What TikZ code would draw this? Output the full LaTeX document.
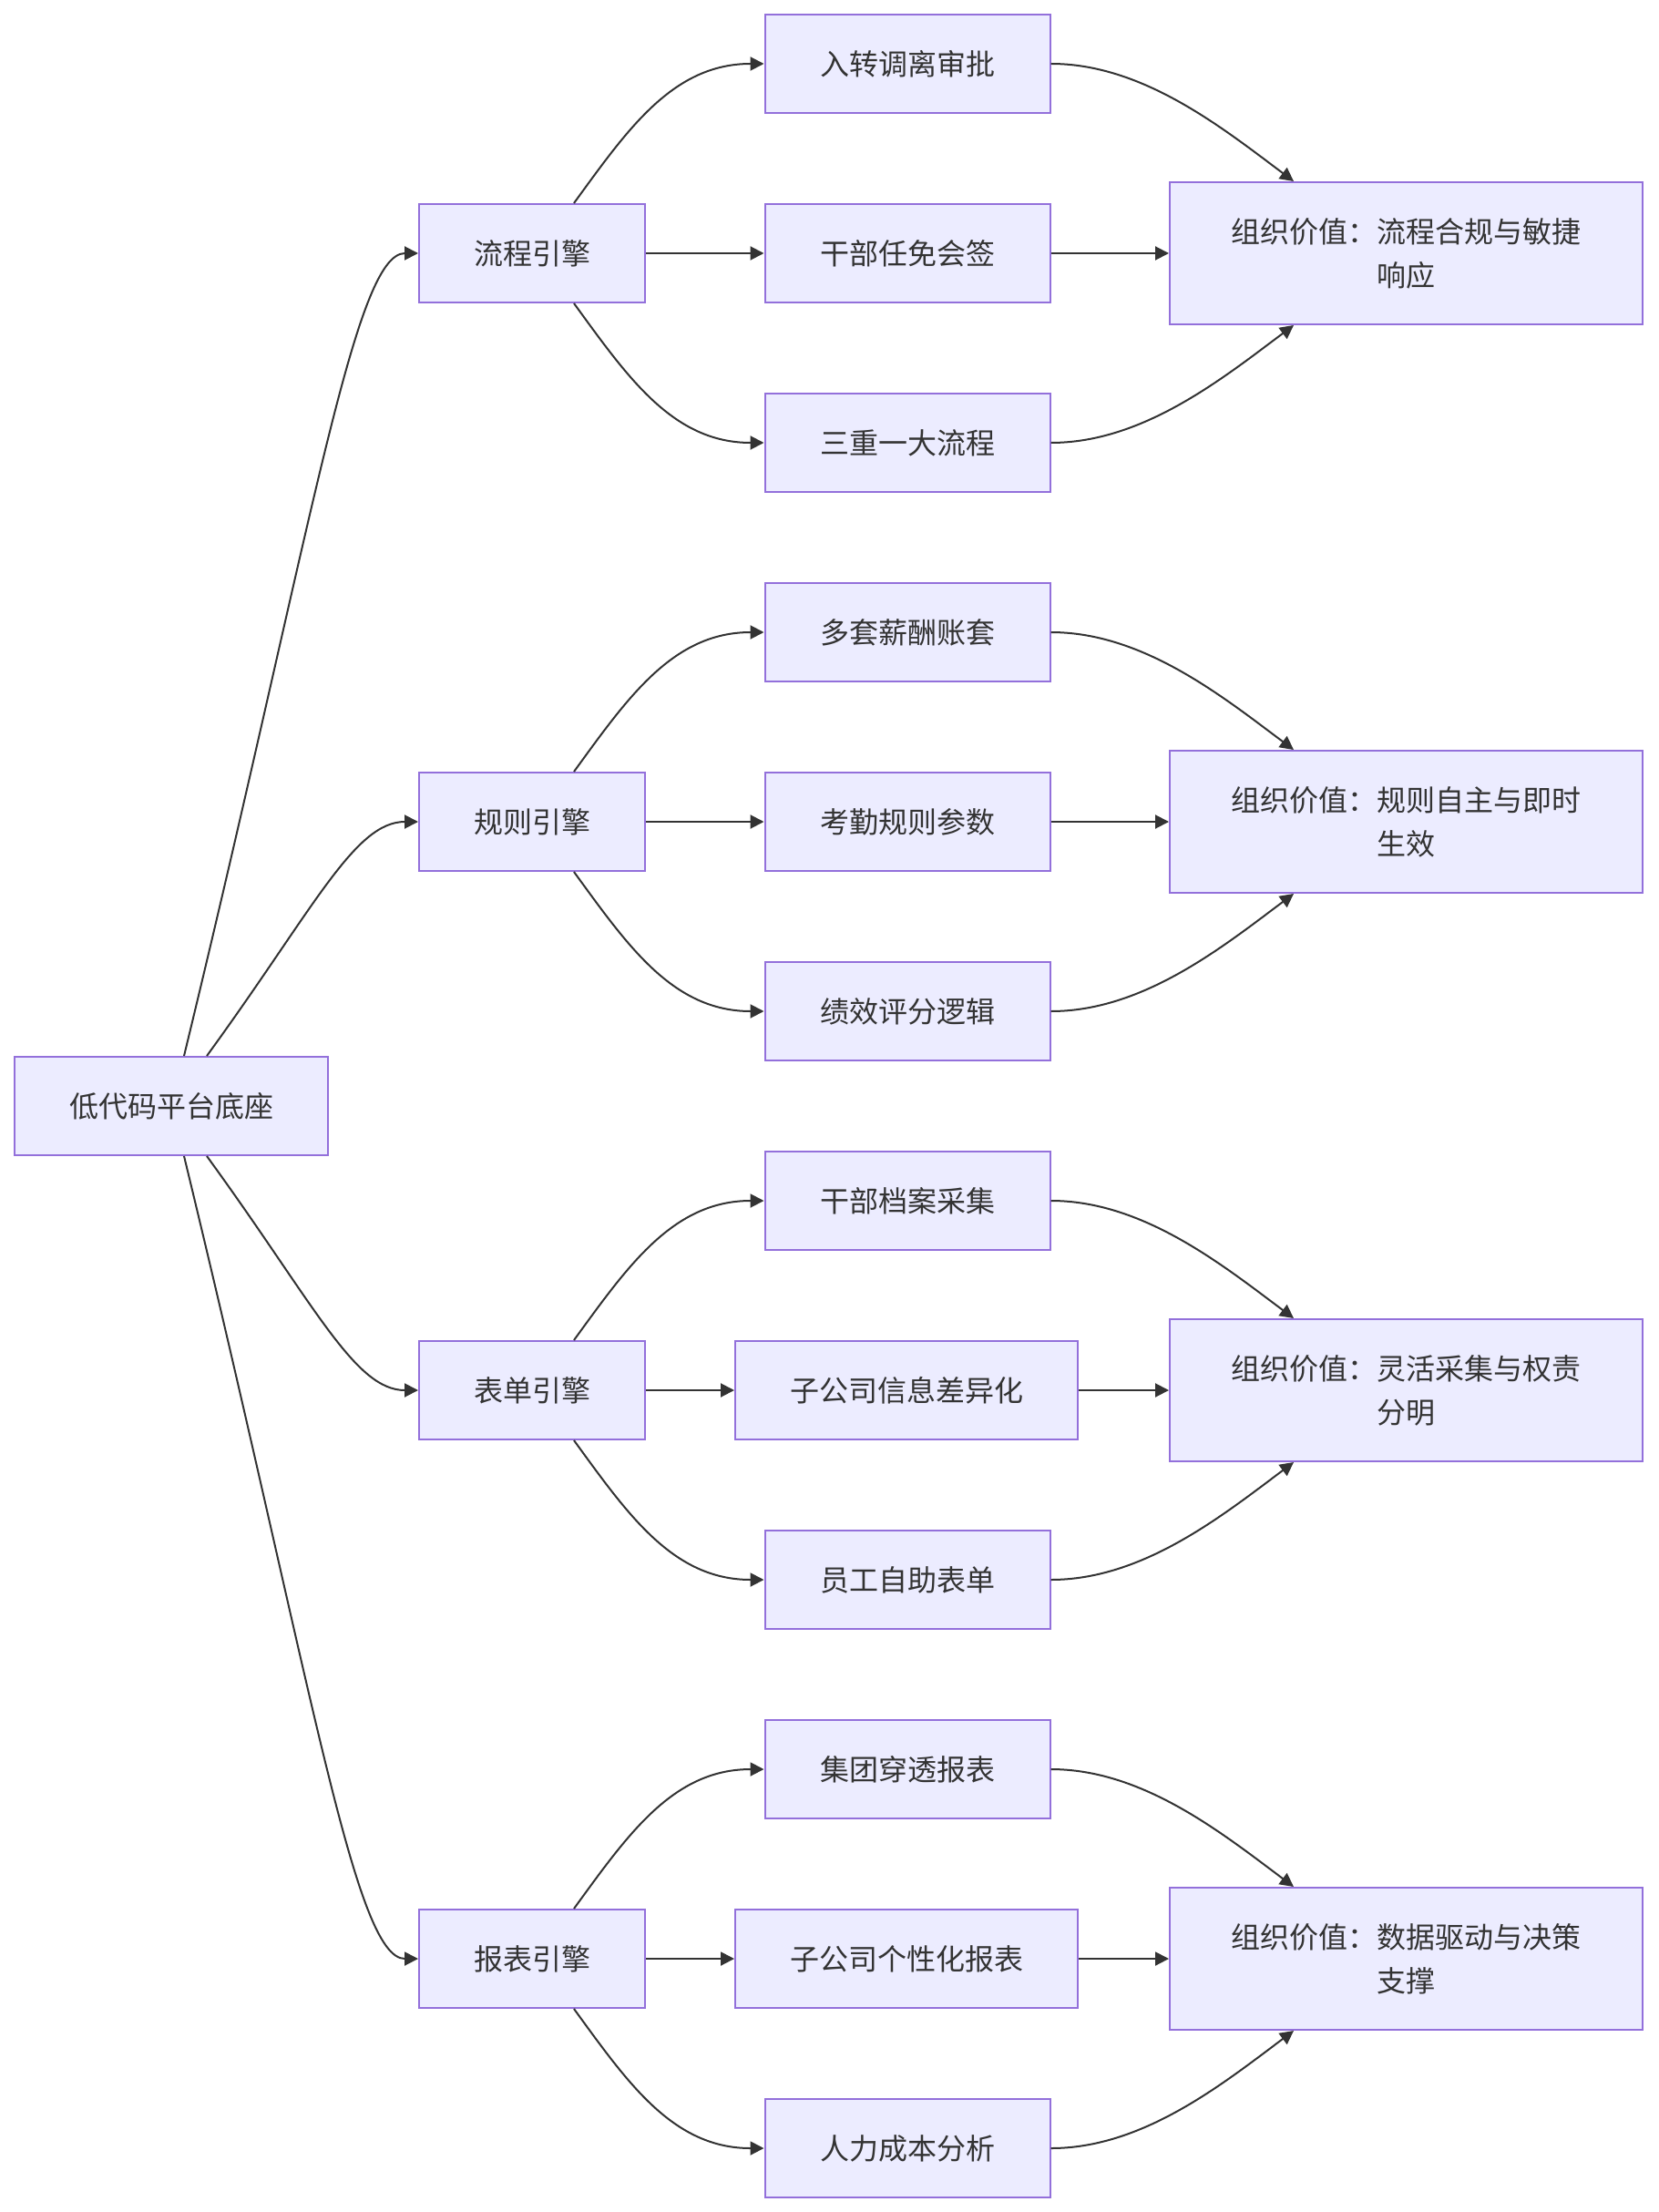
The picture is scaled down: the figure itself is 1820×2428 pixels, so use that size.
\documentclass[tikz,border=0pt]{standalone}
\usepackage{fontspec}
\newfontfamily\cjk{Noto Sans CJK SC}
\usetikzlibrary{arrows.meta,calc}
\definecolor{boxfill}{HTML}{ECECFF}
\definecolor{boxline}{HTML}{9370DB}
\definecolor{ink}{HTML}{333333}
\begin{document}
\begin{tikzpicture}[x=0.5pt,y=-0.5pt,
  box/.style={draw=boxline, fill=boxfill, line width=1pt, text=ink,
    font=\cjk\fontsize{16pt}{24pt}\selectfont, inner sep=0pt,
    minimum height=54pt, align=center},
  rootbox/.style={box, minimum width=172pt},
  enginebox/.style={box, minimum width=124pt},
  itembox/.style={box, minimum width=156.5pt},
  widebox/.style={box, minimum width=188pt},
  valuebox/.style={box, minimum width=259.5pt, minimum height=78pt},
  conn/.style={draw=ink, line width=1pt, -{Triangle[length=7.5pt,width=7.5pt]}}
]
\fill[white] (0,0) rectangle (1820,2428);
\useasboundingbox (0,0) rectangle (1820,2428);

% nodes
\node[rootbox] (root) at (188,1214) {低代码平台底座};

\node[enginebox] (e1) at (584,278) {流程引擎};
\node[enginebox] (e2) at (584,902) {规则引擎};
\node[enginebox] (e3) at (584,1526) {表单引擎};
\node[enginebox] (e4) at (584,2150) {报表引擎};

\node[itembox] (i1a) at (996,70) {入转调离审批};
\node[itembox] (i1b) at (996,278) {干部任免会签};
\node[itembox] (i1c) at (996,486) {三重一大流程};
\node[itembox] (i2a) at (996,694) {多套薪酬账套};
\node[itembox] (i2b) at (996,902) {考勤规则参数};
\node[itembox] (i2c) at (996,1110) {绩效评分逻辑};
\node[itembox] (i3a) at (996,1318) {干部档案采集};
\node[widebox] (i3b) at (995,1526) {子公司信息差异化};
\node[itembox] (i3c) at (996,1734) {员工自助表单};
\node[itembox] (i4a) at (996,1942) {集团穿透报表};
\node[widebox] (i4b) at (995,2150) {子公司个性化报表};
\node[itembox] (i4c) at (996,2358) {人力成本分析};

\node[valuebox] (v1) at (1543.5,278) {组织价值：流程合规与敏捷\\响应};
\node[valuebox] (v2) at (1543.5,902) {组织价值：规则自主与即时\\生效};
\node[valuebox] (v3) at (1543.5,1526) {组织价值：灵活采集与权责\\分明};
\node[valuebox] (v4) at (1543.5,2150) {组织价值：数据驱动与决策\\支撑};

% root -> engines
\draw[conn] ($(root.north)+(14,0)$) .. controls +(141.6,-583.2) and +(-70,0) .. (e1.west);
\draw[conn] ($(root.north)+(39,0)$) .. controls +(118,-162) and +(-70,0) .. (e2.west);
\draw[conn] ($(root.south)+(39,0)$) .. controls +(118,162) and +(-70,0) .. (e3.west);
\draw[conn] ($(root.south)+(14,0)$) .. controls +(141.6,583.2) and +(-70,0) .. (e4.west);

% engines -> items, items -> values
\foreach \g in {1,2,3,4}{
  \draw[conn] ($(e\g.north)+(46,0)$) .. controls +(59,-81) and +(-100,0) .. (i\g a.west);
  \draw[conn] (e\g.east) -- (i\g b.west);
  \draw[conn] ($(e\g.south)+(46,0)$) .. controls +(59,81) and +(-100,0) .. (i\g c.west);
  \draw[conn] (i\g a.east) .. controls +(100,0) and +(-80,-60) .. ($(v\g.north)+(-123.5,0)$);
  \draw[conn] (i\g b.east) -- (v\g.west);
  \draw[conn] (i\g c.east) .. controls +(100,0) and +(-80,60) .. ($(v\g.south)+(-123.5,0)$);
}
\end{tikzpicture}
\end{document}
